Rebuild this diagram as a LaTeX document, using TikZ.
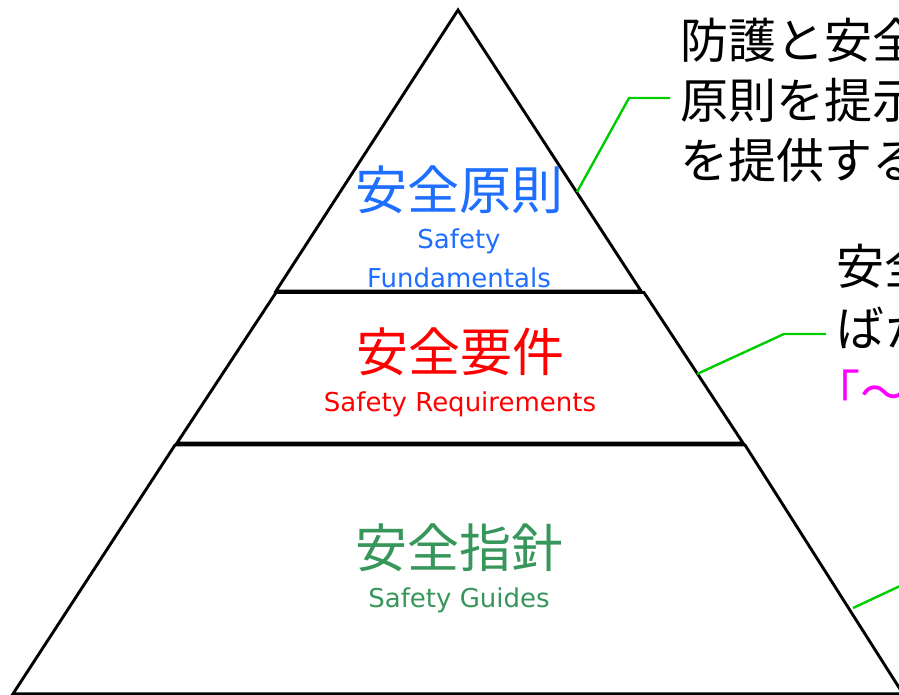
\documentclass[tikz,border=0pt]{standalone}
\usepackage{fontspec}
\setmainfont{Noto Sans CJK JP}
\newfontfamily\latinlbl{DejaVu Sans}
\definecolor{lblblue}{RGB}{30,110,255}
\definecolor{lblred}{RGB}{255,0,0}
\definecolor{lblgreen}{RGB}{55,150,90}
\definecolor{leadgreen}{RGB}{0,205,0}
\definecolor{lblmag}{RGB}{255,0,255}
\begin{document}
\begin{tikzpicture}[x=1pt,y=-1pt,
  tier/.style={draw=black, line width=2.9pt, line join=miter, fill=white},
  jplbl/.style={inner sep=0pt, font=\fontsize{52}{52}\selectfont},
  enlbl/.style={inner sep=0pt, font=\latinlbl\fontsize{26}{26}\selectfont},
  note/.style={inner sep=0pt, anchor=west, font=\fontsize{48}{48}\selectfont},
  leader/.style={draw=leadgreen, line width=2.4pt, line join=miter}]
\useasboundingbox (0,0) rectangle (899,694);
\clip (0,0) rectangle (899,694);
\fill[white] (0,0) rectangle (899,694);

% pyramid tiers
\draw[tier] (13,693.8) -- (903,693.8) -- (745,445) -- (175,445) -- cycle;
\draw[tier] (177,443) -- (743,443) -- (644,292.5) -- (276,292.5) -- cycle;
\draw[tier] (458,10) -- (641,291) -- (276,291) -- cycle;

% labels
\node[jplbl, text=lblblue] (fundjp) at (459,190) {安全原則};
\node[enlbl, text=lblblue] (funden1) at (459,241) {Safety};
\node[enlbl, text=lblblue] (funden2) at (459,278) {Fundamentals};
\node[jplbl, text=lblred] (reqjp) at (460,352) {安全要件};
\node[enlbl, text=lblred] (reqen) at (460,404) {Safety Requirements};
\node[jplbl, text=lblgreen] (guijp) at (459,548) {安全指針};
\node[enlbl, text=lblgreen] (guien) at (459,600) {Safety Guides};

% right-hand notes (cut off at the picture edge, as in the original)
\node[note] (n11) at (680,40) {防護と安全};
\node[note] (n12) at (680,100) {原則を提示};
\node[note] (n13) at (680,160) {を提供する};
\node[note] (n21) at (836,266) {安全};
\node[note] (n22) at (836,328) {ばか};
\node[note, text=lblmag] (n23) at (812,390) {「～};

% leaders
\coordinate (a1) at (577,192);
\coordinate (b1) at (629,98);
\coordinate (c1) at (670,98);
\coordinate (a2) at (697,374);
\coordinate (b2) at (784,334);
\coordinate (c2) at (826,334);
\coordinate (a3) at (853,608);
\coordinate (b3) at (930,572);
\draw[leader] (a1) -- (b1) -- (c1);
\draw[leader] (a2) -- (b2) -- (c2);
\draw[leader] (a3) -- (b3);
\end{tikzpicture}
\end{document}
